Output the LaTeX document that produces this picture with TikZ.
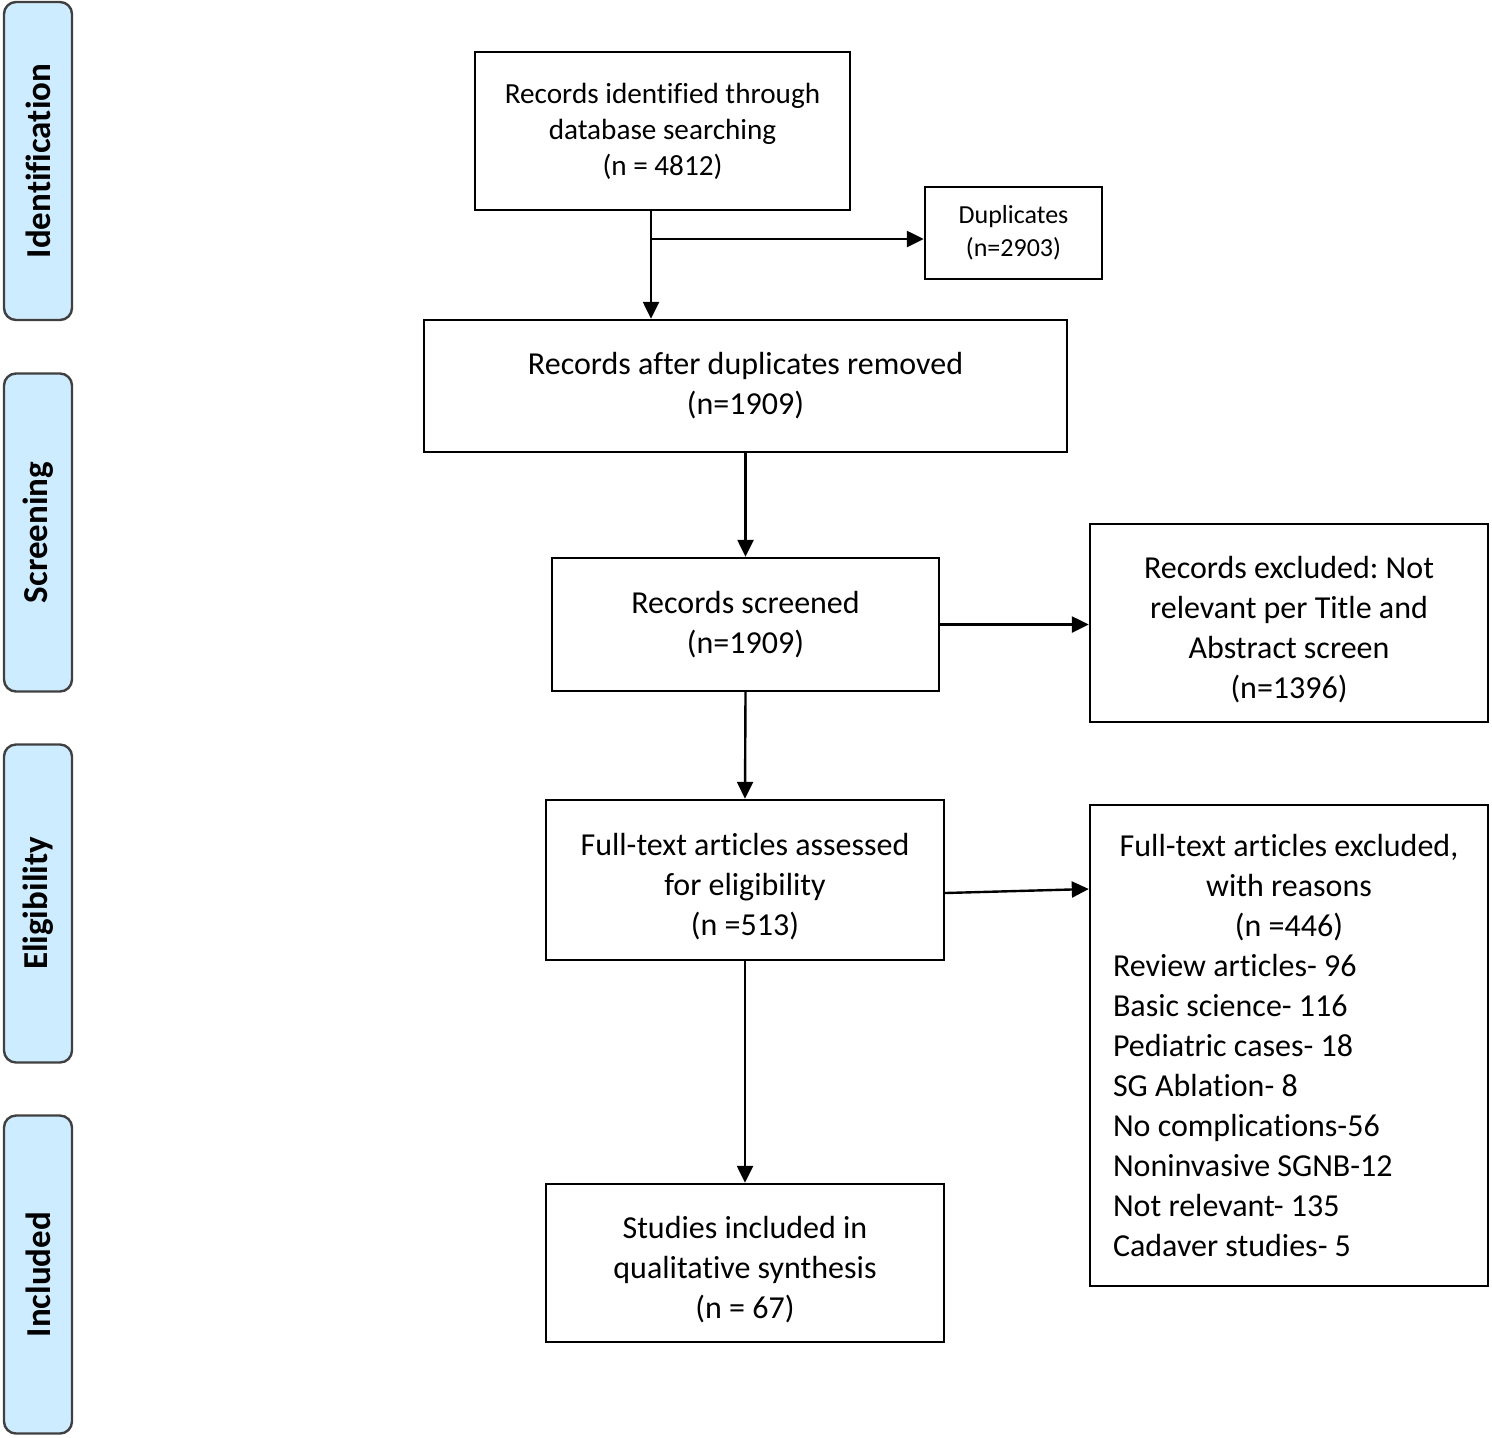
\documentclass[tikz,border=0pt]{standalone}
\usepackage{fontspec}
\setmainfont{Carlito}[Ligatures=NoCommon]
\usetikzlibrary{arrows.meta}
\definecolor{phasefill}{RGB}{206,236,255}
\definecolor{phaseline}{RGB}{64,64,64}
\newcommand{\topstrut}{\rule{0pt}{18pt}}
\frenchspacing

\begin{document}
\begin{tikzpicture}[x=0.5pt, y=-0.5pt,
  box/.style = {draw, line width=1.2pt, align=center, inner sep=0pt, font=\fontsize{16}{20}\selectfont},
  phase/.style = {draw=phaseline, fill=phasefill, line width=1.2pt, rounded corners=6pt, rotate=90,
    minimum width=159pt, minimum height=34pt, inner sep=0pt, font=\fontsize{17.5}{20}\selectfont\bfseries},
  arr/.style = {line width=1.2pt, -{Triangle[length=8.5pt,width=8pt]}}]
\useasboundingbox (0,0) rectangle (1492,1437);

% phases on the left
\node[phase] (idph) at (38,161) {Identification};
\node[phase] (scph) at (38,532.5) {Screening};
\node[phase] (elph) at (38,903.5) {Eligibility};
\node[phase] (inph) at (38,1274.5) {Included};

% boxes
\node[box, minimum width=187.5pt, minimum height=79pt, font=\fontsize{14.6}{18}\selectfont] (ident) at (662.5,131)
  {Records identified through\\database searching\\(n = 4812)};
\node[box, minimum width=88.5pt, minimum height=46pt, font=\fontsize{13}{16.5}\selectfont] (dup) at (1013.5,233)
  {Duplicates\\(n=2903)};
\node[box, minimum width=321.5pt, minimum height=66pt] (removed) at (745.5,386)
  {Records after duplicates removed\\(n=1909)};
\node[box, minimum width=193.5pt, minimum height=66.5pt] (screened) at (745.5,624.5)
  {Records screened\\(n=1909)};
\node[box, minimum width=199pt, minimum height=99pt] (excl1) at (1289,623)
  {\topstrut Records excluded: Not\\relevant per Title and\\Abstract screen\\(n=1396)};
\node[box, minimum width=199pt, minimum height=80pt] (fulltext) at (745,880)
  {\topstrut Full-text articles assessed\\for eligibility\\(n =513)};
\node[box, minimum width=199pt, minimum height=240.5pt, align=left] (excl2) at (1289,1045.5)
  {\makebox[176pt]{Full-text articles excluded,}\\\makebox[176pt]{with reasons}\\\makebox[176pt]{(n =446)}\\
   Review articles- 96\\Basic science- 116\\Pediatric cases- 18\\SG Ablation- 8\\
   No complications-56\\Noninvasive SGNB-12\\Not relevant- 135\\Cadaver studies- 5};
\node[box, minimum width=199pt, minimum height=79pt] (included) at (745,1263)
  {\topstrut Studies included in\\qualitative synthesis\\(n = 67)};

% arrows
\coordinate (split) at (651,239);
\draw[line width=1.2pt] (ident.south -| split) -- (split);
\draw[arr] (split) -- (removed.north -| split);
\draw[arr] (split) -- (dup.west |- split);
\draw[arr] (removed) -- (screened);
\draw[arr] (screened.east) -- (excl1.west |- screened.east);
\draw[arr] (screened.south) -- (fulltext.north);
\draw[arr] (fulltext.east |- 0,893) -- (excl2.west |- 0,889);
\draw[arr] (fulltext) -- (included);
\end{tikzpicture}
\end{document}
